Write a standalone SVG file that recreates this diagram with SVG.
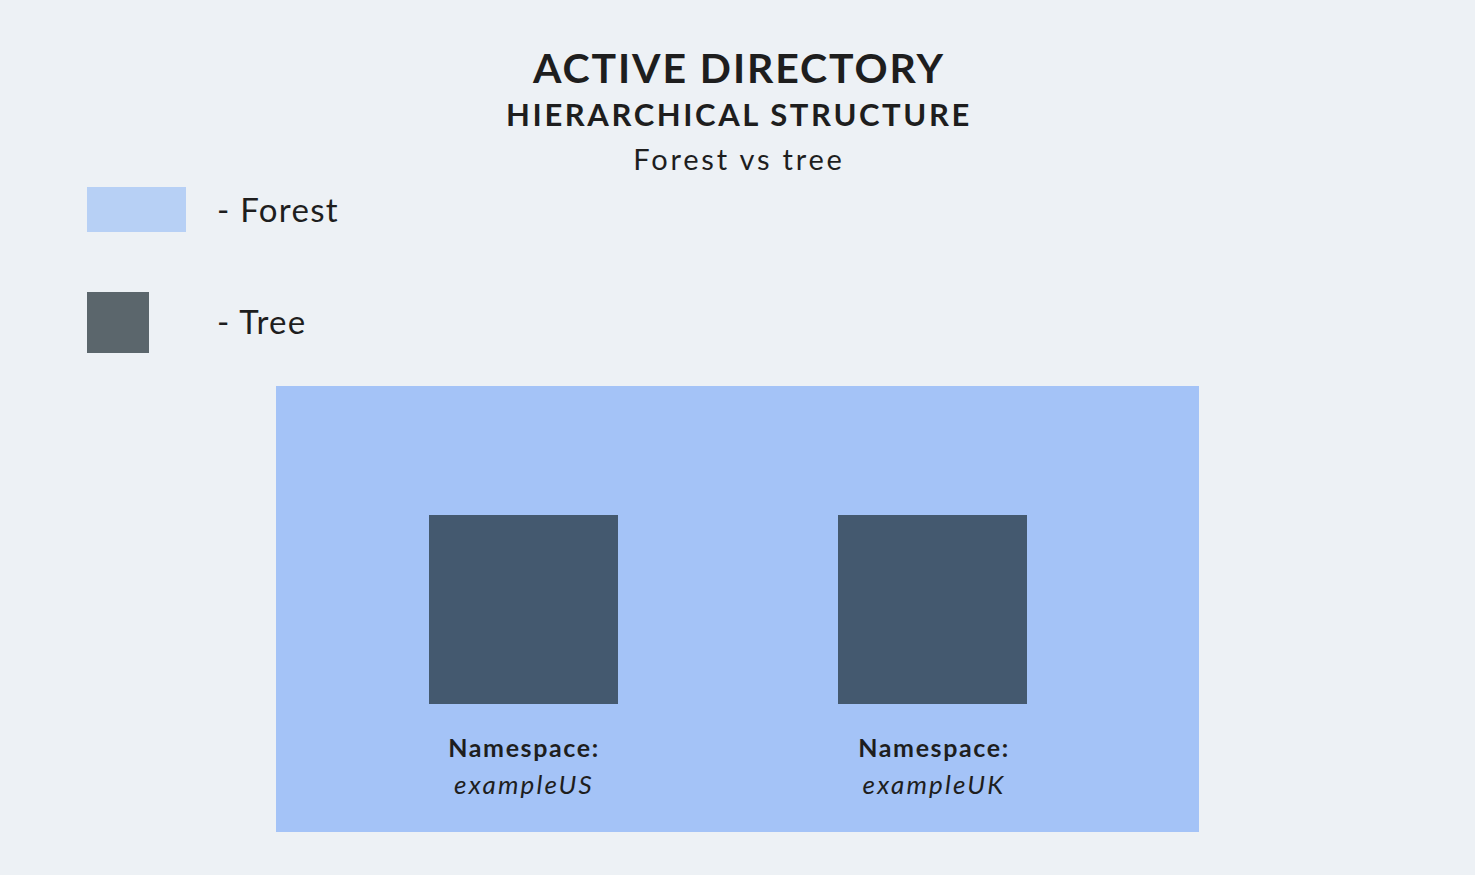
<svg xmlns="http://www.w3.org/2000/svg" width="1475" height="875" viewBox="0 0 1475 875">
<style>
text{font-family:Lato,"Noto Sans","Liberation Sans",sans-serif;fill:#1e1e1e}
.c{text-anchor:middle}
.tree{fill:#44596f}
.ns{font-size:25px;font-weight:bold;letter-spacing:1.6px}
.ex{font-size:26px;font-style:italic;letter-spacing:2.2px}
.lg{font-size:33px;letter-spacing:1.3px}
</style>
<rect width="1475" height="875" fill="#edf1f5"/>
<g id="title">
<text class="c" x="739" y="83" font-size="41" font-weight="bold" letter-spacing="1.9">ACTIVE DIRECTORY</text>
<text class="c" x="739" y="126" font-size="31" font-weight="bold" letter-spacing="2.6">HIERARCHICAL STRUCTURE</text>
<text class="c" x="739" y="170" font-size="29" letter-spacing="2.8">Forest vs tree</text>
</g>
<g id="legend-forest">
<rect x="87" y="187" width="99" height="45" fill="#b7d0f5"/>
<text class="lg" x="217" y="222">- Forest</text>
</g>
<g id="legend-tree">
<rect x="87" y="292" width="62" height="61" fill="#5b666c"/>
<text class="lg" x="217" y="334" letter-spacing="2">- Tree</text>
</g>
<g id="forest">
<rect x="276" y="386" width="923" height="446" fill="#a4c3f7"/>
</g>
<g id="tree-us">
<rect class="tree" x="429" y="515" width="189" height="189"/>
<text class="c ns" x="524" y="757">Namespace:</text>
<text class="c ex" x="524" y="794">exampleUS</text>
</g>
<g id="tree-uk">
<rect class="tree" x="838" y="515" width="189" height="189"/>
<text class="c ns" x="934" y="757">Namespace:</text>
<text class="c ex" x="934" y="794">exampleUK</text>
</g>
<g id="connectors"/>
</svg>
